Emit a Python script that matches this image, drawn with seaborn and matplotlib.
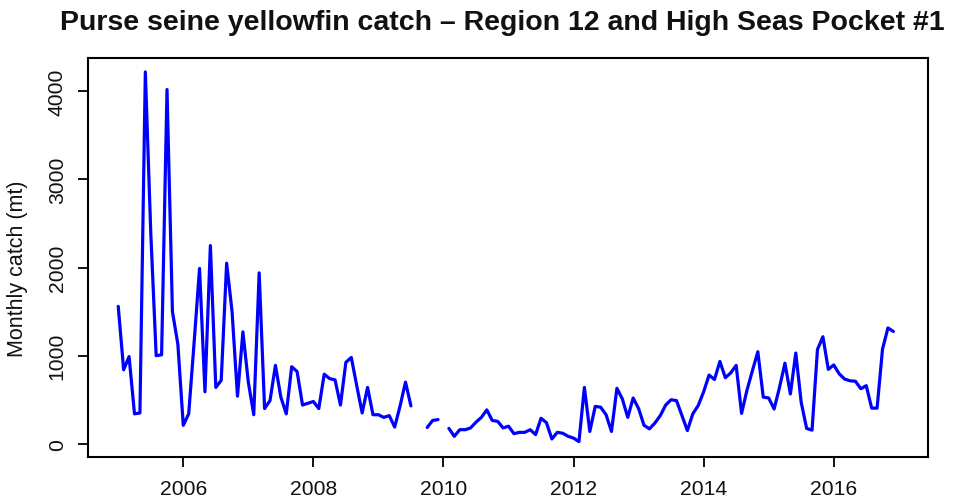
import numpy as np
import pandas as pd
import matplotlib
matplotlib.use("Agg")
import matplotlib.pyplot as plt
import seaborn as sns

# Monthly purse seine yellowfin catch (mt), January 2005 to December 2016.
# NaN marks months with no reported catch.
years = list(range(2005, 2017))
catch_2005 = [1560, 840, 990, 340, 350, 4220, 2400, 1000, 1010, 4020, 1500, 1130]
catch_2006 = [210, 340, 1150, 1990, 590, 2250, 640, 720, 2050, 1500, 540, 1270]
catch_2007 = [700, 330, 1940, 400, 490, 890, 530, 340, 875, 820, 440, 460]
catch_2008 = [480, 400, 790, 740, 725, 440, 925, 980, 660, 350, 640, 330]
catch_2009 = [330, 300, 320, 190, 430, 700, 430, np.nan, np.nan, 185, 265, 275]
catch_2010 = [np.nan, 175, 85, 160, 160, 180, 245, 300, 385, 265, 255, 180]
catch_2011 = [200, 115, 130, 130, 160, 105, 290, 240, 55, 130, 120, 85]
catch_2012 = [65, 25, 640, 140, 425, 415, 330, 140, 630, 510, 300, 520]
catch_2013 = [400, 210, 170, 235, 320, 440, 500, 490, 320, 150, 340, 435]
catch_2014 = [590, 780, 730, 935, 750, 805, 890, 345, 610, 830, 1045, 530]
catch_2015 = [520, 395, 640, 915, 565, 1030, 470, 175, 155, 1070, 1215, 845]
catch_2016 = [895, 795, 735, 715, 710, 625, 660, 405, 405, 1075, 1315, 1275]

monthly = [catch_2005, catch_2006, catch_2007, catch_2008, catch_2009, catch_2010,
           catch_2011, catch_2012, catch_2013, catch_2014, catch_2015, catch_2016]

x_ticks = [2006, 2008, 2010, 2012, 2014, 2016]
y_ticks = [0, 1000, 2000, 3000, 4000]

rows = []
for yr, vals in zip(years, monthly):
    for m, v in enumerate(vals):
        rows.append({"time": yr + m / 12.0, "catch": v})
df = pd.DataFrame(rows)
# break the line wherever a month is missing
df["segment"] = df["catch"].isna().cumsum()
df = df.dropna().reset_index(drop=True)

sns.set_theme(style="white")
plt.rcParams["font.family"] = ["Liberation Sans", "DejaVu Sans"]

fig = plt.figure(figsize=(9.62, 5.02), dpi=100)
ax = fig.add_axes([0.0918, 0.0876, 0.8729, 0.7943])

sns.lineplot(data=df, x="time", y="catch", units="segment", estimator=None,
             color="#0000FF", linewidth=2.3, ax=ax, legend=False)

ax.set_xlim(2004.54, 2017.45)
ax.set_ylim(-150, 4375)
ax.set_xticks(x_ticks)
ax.set_xticklabels([str(t) for t in x_ticks])
ax.set_yticks(y_ticks)
ax.set_yticklabels([str(t) for t in y_ticks], rotation=90, va="center")

for s in ax.spines.values():
    s.set_visible(True)
    s.set_color("black")
    s.set_linewidth(1.5)

ax.tick_params(axis="both", which="major", direction="out", length=7.5, width=1.3,
               color="black", labelsize=15.2, labelcolor="#111111", pad=8,
               bottom=True, left=True)

ax.set_xlabel("")
ax.set_ylabel("Monthly catch (mt)", fontsize=15.5, color="#111111")
ax.yaxis.label.set_va("center")
ax.yaxis.set_label_coords(-0.084, 0.475)

fig.text(0.522, 0.955, "Purse seine yellowfin catch \u2013 Region 12 and High Seas Pocket #1",
         ha="center", va="center", fontsize=20.5, fontweight="bold", color="#111111")

fig.savefig("out.png", dpi=100, facecolor="white")
